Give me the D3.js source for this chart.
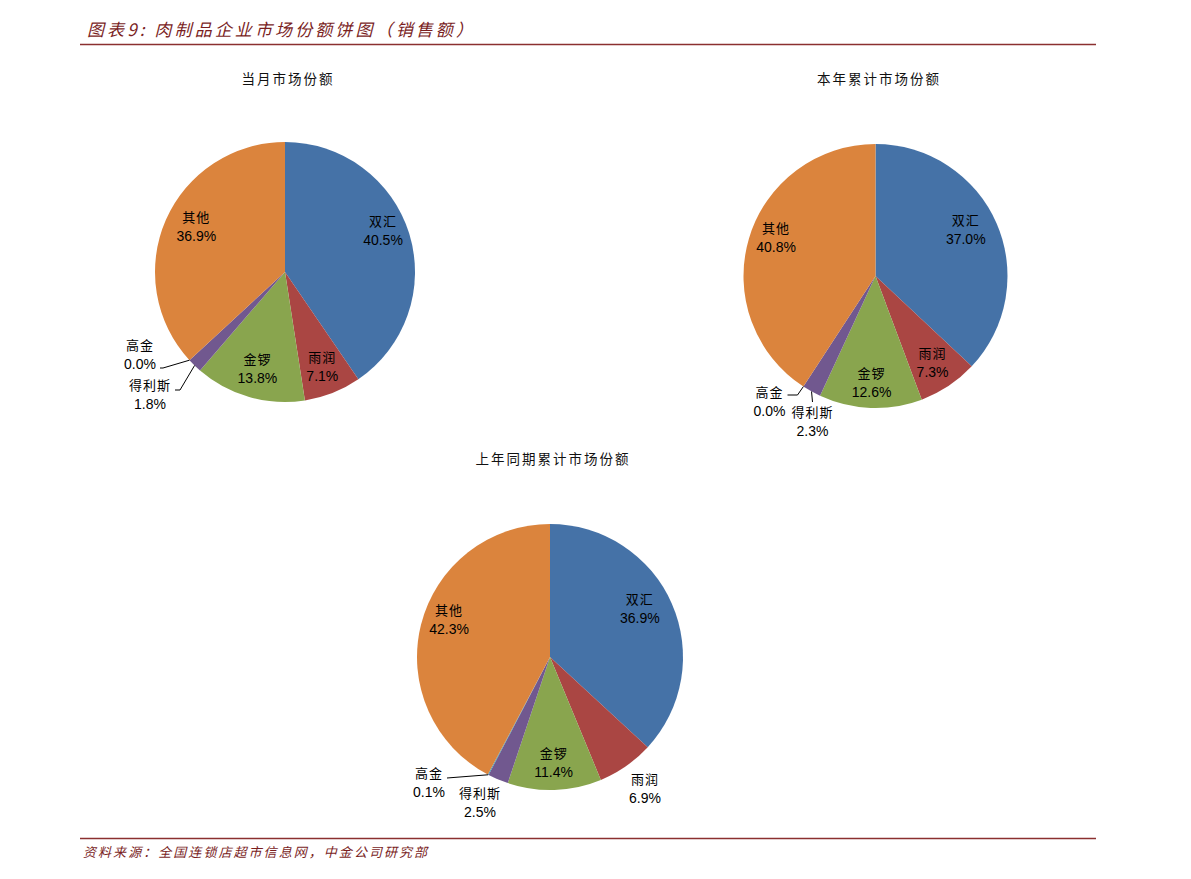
<!DOCTYPE html>
<html><head><meta charset="utf-8">
<script src="https://cdn.jsdelivr.net/npm/d3@7"></script>
<style>
html,body{margin:0;padding:0;background:#fff;}
svg{display:block;}
</style>
</head><body>
<svg id="chart" width="1191" height="879"></svg>
<script>
// ---- data ----
const categories = ["双汇", "雨润", "金锣", "得利斯", "高金", "其他"];
const monthShare = [40.5, 7.1, 13.8, 1.8, 0.0, 36.9];
const ytdShare = [37.0, 7.3, 12.6, 2.3, 0.0, 40.8];
const lastYtdShare = [36.9, 6.9, 11.4, 2.5, 0.1, 42.3];
const chartTitles = ["当月市场份额", "本年累计市场份额", "上年同期累计市场份额"];
const headerTitle = "图表9:  肉制品企业市场份额饼图（销售额）";
const sourceNote = "资料来源：全国连锁店超市信息网，中金公司研究部";

// ---- style / layout ----
const colors = ["#4572A7", "#AA4643", "#89A54E", "#71588F", "#4198AF", "#DB843D"];
const darkRed = "#7A1E1E";
const cjk = "'Noto Sans CJK SC', 'Noto Sans', sans-serif";
const num = "'Liberation Sans', Arial, sans-serif";

const layouts = [
  { values: monthShare, cx: 285, cy: 272, r: 130, titleX: 288, titleY: 78,
    labels: [
      {adj: -6, rf: 0.82}, {adj: 0, rf: 0.78}, {adj: 0, rf: 0.77},
      {out: [-135, 122], path: [[-105, 118], [-110, 118]]},
      {out: [-145, 82], path: [[-122, 96], [-125, 96]]},
      {adj: 4, rf: 0.77}
    ]
  },
  { values: ytdShare, cx: 875.5, cy: 276, r: 132, titleX: 879, titleY: 78,
    labels: [
      {adj: -4, rf: 0.77}, {adj: 0, rf: 0.78}, {adj: 0, rf: 0.8},
      {out: [-63, 145], path: [[-63, 126]]},
      {out: [-106, 125], path: [[-78, 119], [-88, 119]]},
      {adj: 5, rf: 0.81}
    ]
  },
  { values: lastYtdShare, cx: 550, cy: 657, r: 133, titleX: 553, titleY: 458,
    labels: [
      {adj: -5, rf: 0.77}, {out: [95, 130.5]}, {adj: 0, rf: 0.79},
      {out: [-70, 145]},
      {out: [-121, 125], path: [[-103, 121]]},
      {adj: 6.5, rf: 0.81}
    ]
  }
];

const svg = d3.select("#chart");

// header
svg.append("text").attr("x", 87).attr("y", 36)
  .attr("font-family", cjk).attr("font-size", 17).attr("font-style", "italic")
  .attr("letter-spacing", 3.1).attr("fill", darkRed).text(headerTitle);
svg.append("line").attr("x1", 80).attr("x2", 1096).attr("y1", 44.5).attr("y2", 44.5)
  .attr("stroke", "#8B3030").attr("stroke-width", 1.3);

// footer
svg.append("line").attr("x1", 80).attr("x2", 1096).attr("y1", 838.5).attr("y2", 838.5)
  .attr("stroke", "#8B3030").attr("stroke-width", 1.3);
svg.append("text").attr("x", 83).attr("y", 857)
  .attr("font-family", cjk).attr("font-size", 13).attr("font-style", "italic")
  .attr("letter-spacing", 2.05).attr("fill", darkRed).text(sourceNote);

const pie = d3.pie().sort(null).value(d => d);
const toRad = Math.PI / 180;

layouts.forEach((L, ci) => {
  const g = svg.append("g").attr("transform", `translate(${L.cx},${L.cy})`);
  svg.append("text").attr("x", L.titleX).attr("y", L.titleY)
    .attr("text-anchor", "middle").attr("dominant-baseline", "central")
    .attr("font-family", cjk).attr("font-size", 13.5).attr("letter-spacing", 2)
    .attr("fill", "#111").text(chartTitles[ci]);

  const arcs = pie(L.values);
  const arc = d3.arc().innerRadius(0).outerRadius(L.r);
  g.selectAll("path.slice").data(arcs).join("path")
    .attr("class", "slice")
    .attr("d", arc)
    .attr("fill", (d, i) => colors[i]);

  arcs.forEach((a, i) => {
    const lab = L.labels[i];
    const mid = (a.startAngle + a.endAngle) / 2;
    let x, y;
    if (lab.out) {
      [x, y] = lab.out;
      if (lab.path) {
        const sx = Math.sin(mid) * L.r, sy = -Math.cos(mid) * L.r;
        const pts = [[sx, sy]].concat(lab.path);
        g.append("path").attr("d", d3.line()(pts))
          .attr("fill", "none").attr("stroke", "#000").attr("stroke-width", 1);
      }
    } else {
      const ang = mid + lab.adj * toRad;
      x = Math.sin(ang) * L.r * lab.rf;
      y = -Math.cos(ang) * L.r * lab.rf;
    }
    const t = g.append("g").attr("transform", `translate(${x},${y})`);
    t.append("text").attr("y", -9.5).attr("text-anchor", "middle")
      .attr("dominant-baseline", "central")
      .attr("font-family", cjk).attr("font-size", 13).attr("letter-spacing", 1)
      .attr("fill", "#000").text(categories[i]);
    t.append("text").attr("y", 10).attr("text-anchor", "middle")
      .attr("dominant-baseline", "central")
      .attr("font-family", num).attr("font-size", 14)
      .attr("fill", "#000").text(L.values[i].toFixed(1) + "%");
  });
});
</script>
</body></html>
